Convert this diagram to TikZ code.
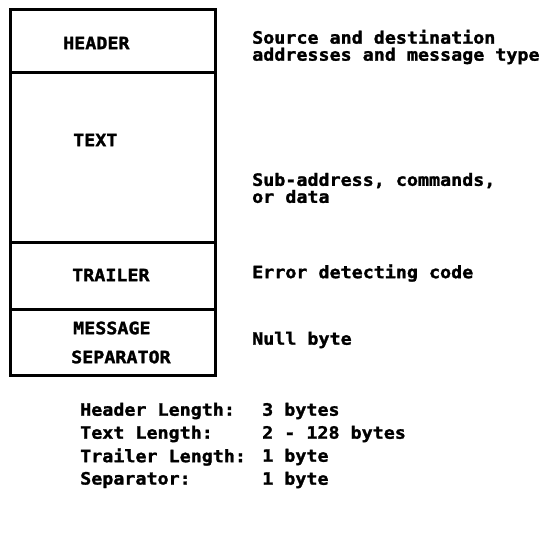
\documentclass[tikz,border=0pt]{standalone}
\usepackage{fontspec}
\newfontfamily\dotfont{DejaVu Sans Mono}[FakeStretch=1.08,FakeBold=1.6]
\usepackage{tikz}
\usetikzlibrary{positioning}

\begin{document}
\begin{tikzpicture}[
x=1pt,
y=-1pt,
every node/.style={font=\dotfont\bfseries\fontsize{17}{17}\selectfont,inner sep=0pt},
field/.style={anchor=west},
desc/.style={anchor=west,align=left},
frame/.style={line width=3pt,line join=miter}
]
\useasboundingbox (0,0) rectangle (543,535);
% message frame
\draw[frame] (10,10) rectangle (215,375);
\draw[frame] (10,72) -- (215,72);
\draw[frame] (10,242) -- (215,242);
\draw[frame] (10,309) -- (215,309);

\node[field] (header) at (63,43) {HEADER};
\node[field] (text) at (73,140) {TEXT};
\node[field] (trailer) at (72,275) {TRAILER};
\node[field] (msg) at (73,328) {MESSAGE};
\node[field] (sep) at (71,357) {SEPARATOR};

\node[desc] (headerd) at (252,47) {Source and destination\\addresses and message type};
\node[desc] (textd) at (252,188) {Sub-address, commands,\\or data};
\node[desc] (trailerd) at (252,273) {Error detecting code};
\node[desc] (sepd) at (252,340) {Null byte};

% lengths
\node[desc] (hl) at (80,411) {Header Length:};
\node[desc] (tl) at (80,434) {Text Length:};
\node[desc] (rl) at (80,457) {Trailer Length:};
\node[desc] (sl) at (80,480) {Separator:};
\node[desc] (hv) at (262,411) {3 bytes};
\node[desc] (tv) at (262,434) {2 - 128 bytes};
\node[desc] (rv) at (262,457) {1 byte};
\node[desc] (sv) at (262,480) {1 byte};
\end{tikzpicture}
\end{document}
